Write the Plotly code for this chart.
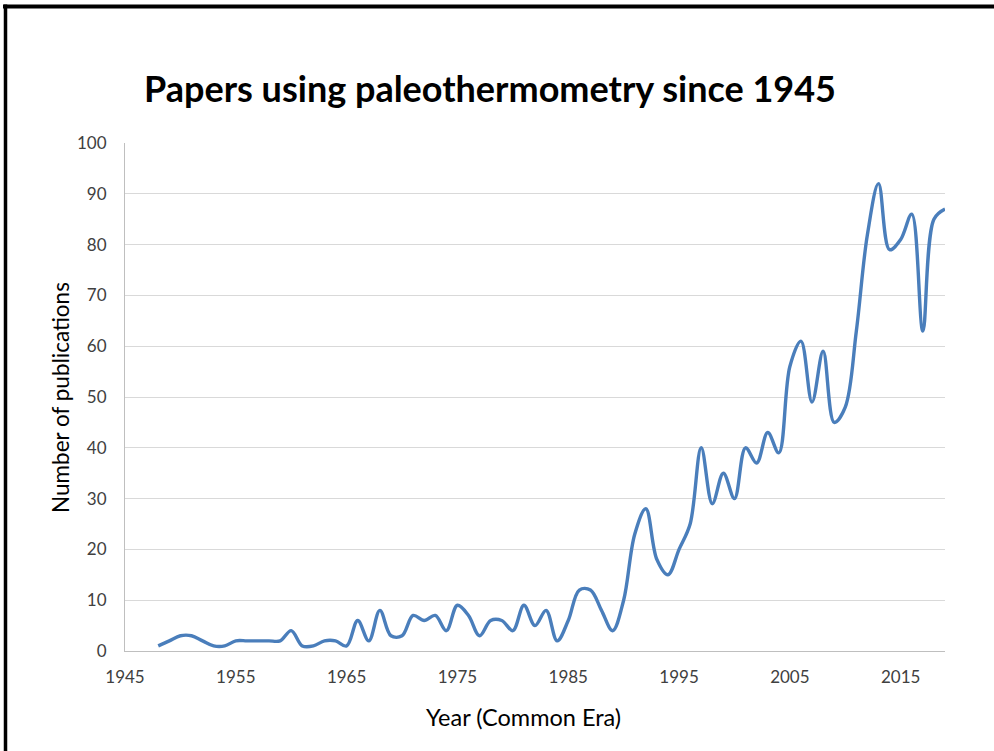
import plotly.graph_objects as go

years = list(range(1948, 2020))
publications = [
    1, 2, 3, 3, 2, 1, 1, 2, 2, 2, 2, 2,          # 1948-1959
    4, 1, 1, 2, 2, 1, 6, 2, 8, 3, 3, 7,          # 1960-1971
    6, 7, 4, 9, 7, 3, 6, 6, 4, 9, 5, 8,          # 1972-1983
    2, 6, 12, 12, 8, 4, 10, 23, 28, 18, 15, 20,  # 1984-1995
    25, 40, 29, 35, 30, 40, 37, 43, 39, 56, 61, 49,  # 1996-2007
    59, 45, 48, 63, 82, 92, 79, 81, 86, 63, 85, 87,  # 2008-2019
]
x_ticks = [1945, 1955, 1965, 1975, 1985, 1995, 2005, 2015]
y_ticks = [0, 10, 20, 30, 40, 50, 60, 70, 80, 90, 100]

title_text = "Papers using paleothermometry since 1945"
x_title = "Year (Common Era)"
y_title = "Number of publications"

FONT = "Lato"
W, H = 994, 751
L, R, T, B = 125, 49, 143, 100
pw, ph = W - L - R, H - T - B

def px(xp):
    return (xp - L) / pw

def py(yp):
    return (H - B - yp) / ph

fig = go.Figure()
fig.add_trace(go.Scatter(
    x=years, y=publications, mode="lines",
    line=dict(color="#4A7EBB", width=3.4, shape="spline", smoothing=1.0),
    hoverinfo="x+y", showlegend=False,
))

fig.update_layout(
    width=W, height=H,
    margin=dict(l=L, r=R, t=T, b=B, pad=0),
    paper_bgcolor="white", plot_bgcolor="white",
    font=dict(family=FONT, color="#404040"),
    xaxis=dict(
        range=[1945, 2019], tickvals=x_ticks, ticktext=[str(v) for v in x_ticks],
        showgrid=False, zeroline=False, showline=True, linecolor="#BFBFBF", linewidth=1,
        ticks="outside", ticklen=11, tickcolor="rgba(0,0,0,0)",
        tickfont=dict(family=FONT, size=17, color="#404040"),
    ),
    yaxis=dict(
        range=[0, 100], tickvals=y_ticks,
        showgrid=True, gridcolor="#D9D9D9", gridwidth=1,
        zeroline=False, showline=True, linecolor="#BFBFBF", linewidth=1,
        ticks="outside", ticklen=14, tickcolor="rgba(0,0,0,0)",
        tickfont=dict(family=FONT, size=17, color="#404040"),
    ),
    annotations=[
        dict(text="<b>" + title_text + "</b>", x=px(490), y=py(88), xref="paper", yref="paper",
             xanchor="center", yanchor="middle", showarrow=False,
             font=dict(family=FONT, size=36, color="black")),
        dict(text=x_title, x=px(523), y=py(717), xref="paper", yref="paper",
             xanchor="center", yanchor="middle", showarrow=False,
             font=dict(family=FONT, size=23.5, color="black")),
        dict(text=y_title, x=px(60), y=py(398), xref="paper", yref="paper",
             xanchor="center", yanchor="middle", showarrow=False, textangle=-90,
             font=dict(family=FONT, size=22.5, color="black")),
    ],
    shapes=[
        dict(type="line", xref="paper", yref="paper", x0=px(3), x1=px(1000), y0=py(6.5), y1=py(6.5),
             line=dict(color="black", width=4)),
        dict(type="line", xref="paper", yref="paper", x0=px(5.5), x1=px(5.5), y0=py(4.5), y1=py(760),
             line=dict(color="black", width=3.5)),
    ],
)

fig.write_html(
    "out.html",
    config={"displayModeBar": False},
    post_script="document.body.style.margin='0';document.body.style.overflow='hidden';",
)
